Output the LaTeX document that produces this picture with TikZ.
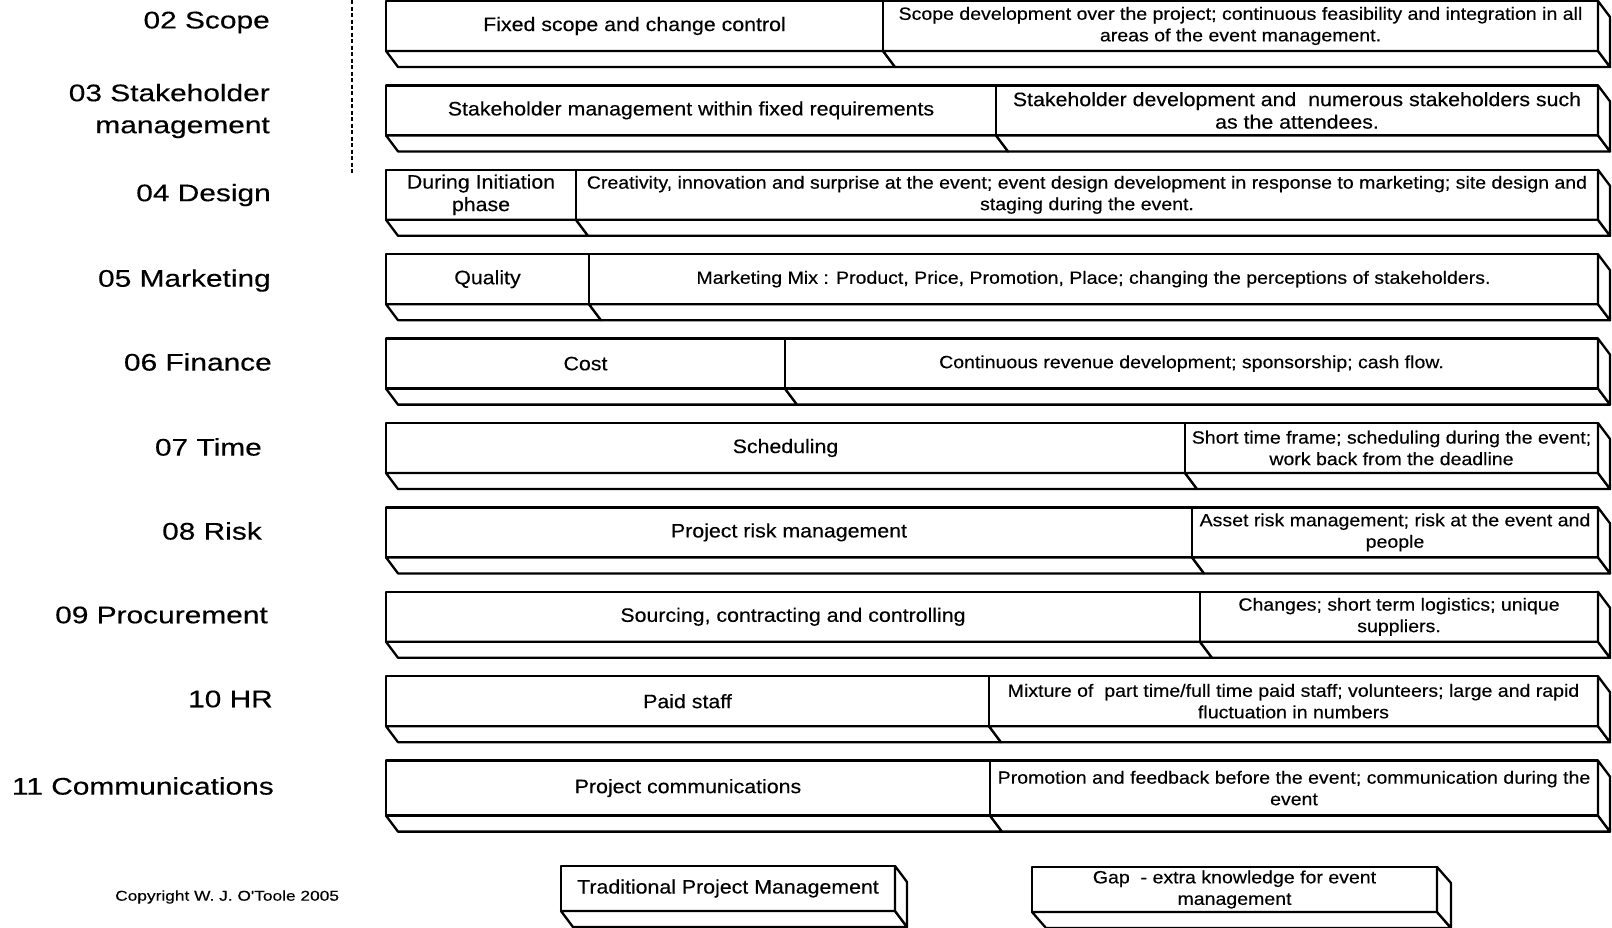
\documentclass[tikz,border=0pt]{standalone}
\usepackage{fontspec}
\setmainfont{Liberation Sans}
\newfontfamily\widesans{Liberation Sans}[FakeStretch=1.22, FakeBold=0.3]
\newfontfamily\boxsans{Liberation Sans}[FakeStretch=1.10, FakeBold=0.3]
\newfontfamily\labelsans{Liberation Sans}[FakeStretch=1.245, FakeBold=0.3]
\usetikzlibrary{calc}

\tikzset{
  face/.style={draw=black, fill=white, line width=2.3pt, line join=round,
    inner sep=0pt, outer sep=0pt, align=center, anchor=north west},
  slab/.style={draw=black, fill=white, line width=2.3pt, line join=round},
  bigtext/.style={font=\boxsans\fontsize{19.4}{22.5}\selectfont},
  smalltext/.style={font=\boxsans\fontsize{17.75}{21.5}\selectfont},
  rowlabel/.style={font=\labelsans\fontsize{24}{32}\selectfont, align=right,
    anchor=east, inner sep=0pt},
  note/.style={font=\widesans\fontsize{14.2}{16}\selectfont, anchor=west, inner sep=0pt},
  guide/.style={draw=black, line width=1.6pt, dash pattern=on 4pt off 2.5pt},
}

% one row: name, top, height, split x, left text, right text, right text style
\newcommand\evrow[7][smalltext]{%
  \node[face, bigtext, minimum height=#4pt, minimum width={(#5-386)*1pt}] (#2L) at (386,#3) {#6};
  \node[face, #1, minimum height=#4pt, minimum width={(1598-#5)*1pt}] (#2R) at (#5,#3) {#7};
  \draw[slab] (#2L.south west) -- ++(12,16) -- ($(#2L.south east)+(12,16)$) -- (#2L.south east) -- cycle;
  \draw[slab] (#2R.south west) -- ++(12,16) -- ($(#2R.south east)+(12,16)$) -- (#2R.south east) -- cycle;
  \draw[slab] (#2R.north east) -- ++(12,16) -- ($(#2R.south east)+(12,16)$) -- (#2R.south east) -- cycle;
}

\begin{document}
\begin{tikzpicture}[x=1pt, y=-1pt]
  \fill[white] (0,0) rectangle (1612,927);
  \useasboundingbox (0,0) rectangle (1612,927);

  % dashed guide beside the first rows
  \coordinate (gtop) at (352,0);
  \coordinate (gbot) at (352,173);
  \draw[guide] (gtop) -- (gbot);

  % knowledge areas
  \evrow{scope}{1}{50}{883}{Fixed scope and change control}
    {Scope development over the project; continuous feasibility and integration in all\\areas of the event management.}
  \evrow[bigtext]{stake}{85.4}{50}{996}{Stakeholder management within fixed requirements}
    {Stakeholder development and\ \ numerous stakeholders such\\as the attendees.}
  \evrow{design}{169.8}{50}{576}{During Initiation\\phase}
    {Creativity, innovation and surprise at the event; event design development in response to marketing; site design and\\staging during the event.}
  \evrow{mkt}{254.2}{50}{589}{Quality}
    {Marketing Mix : Product, Price, Promotion, Place; changing the perceptions of stakeholders.}
  \evrow{fin}{338.6}{50}{785}{Cost}
    {Continuous revenue development; sponsorship; cash flow.}
  \evrow{time}{423}{50}{1185}{Scheduling}
    {Short time frame; scheduling during the event;\\work back from the deadline}
  \evrow{risk}{507.4}{50}{1192}{Project risk management}
    {Asset risk management; risk at the event and\\people}
  \evrow{proc}{591.8}{50}{1200}{Sourcing, contracting and controlling}
    {Changes; short term logistics; unique\\suppliers.}
  \evrow{hr}{676.2}{50}{989}{Paid staff}
    {Mixture of\ \ part time/full time paid staff; volunteers; large and rapid\\fluctuation in numbers}
  \evrow{comm}{760.6}{55}{990}{Project communications}
    {Promotion and feedback before the event; communication during the\\event}

  % row labels
  \node[rowlabel] (l02) at (270,22.5) {02 Scope};
  \node[rowlabel] (l03) at (270,111) {03 Stakeholder\\management};
  \node[rowlabel] (l04) at (271,195) {04 Design};
  \node[rowlabel] (l05) at (271,280.5) {05 Marketing};
  \node[rowlabel] (l06) at (272,362) {06 Finance};
  \node[rowlabel] (l07) at (262,447) {07 Time};
  \node[rowlabel] (l08) at (262,531) {08 Risk};
  \node[rowlabel] (l09) at (268,615) {09 Procurement};
  \node[rowlabel] (l10) at (273,699) {10 HR};
  \node[rowlabel] (l11) at (274,786) {11 Communications};

  % legend
  \node[face, bigtext, minimum width=334pt, minimum height=45pt] (tpm) at (561,866) {Traditional Project Management};
  \draw[slab] (tpm.south west) -- ++(12,16) -- ($(tpm.south east)+(12,16)$) -- (tpm.south east) -- cycle;
  \draw[slab] (tpm.north east) -- ++(12,16) -- ($(tpm.south east)+(12,16)$) -- (tpm.south east) -- cycle;

  \node[face, smalltext, minimum width=405pt, minimum height=45pt] (gap) at (1032,867) {Gap\ \ - extra knowledge for event\\management};
  \draw[slab] (gap.south west) -- ++(14,16) -- ($(gap.south east)+(14,16)$) -- (gap.south east) -- cycle;
  \draw[slab] (gap.north east) -- ++(14,16) -- ($(gap.south east)+(14,16)$) -- (gap.south east) -- cycle;

  \node[note] (copy) at (115,897) {Copyright W. J. O'Toole 2005};
\end{tikzpicture}
\end{document}
